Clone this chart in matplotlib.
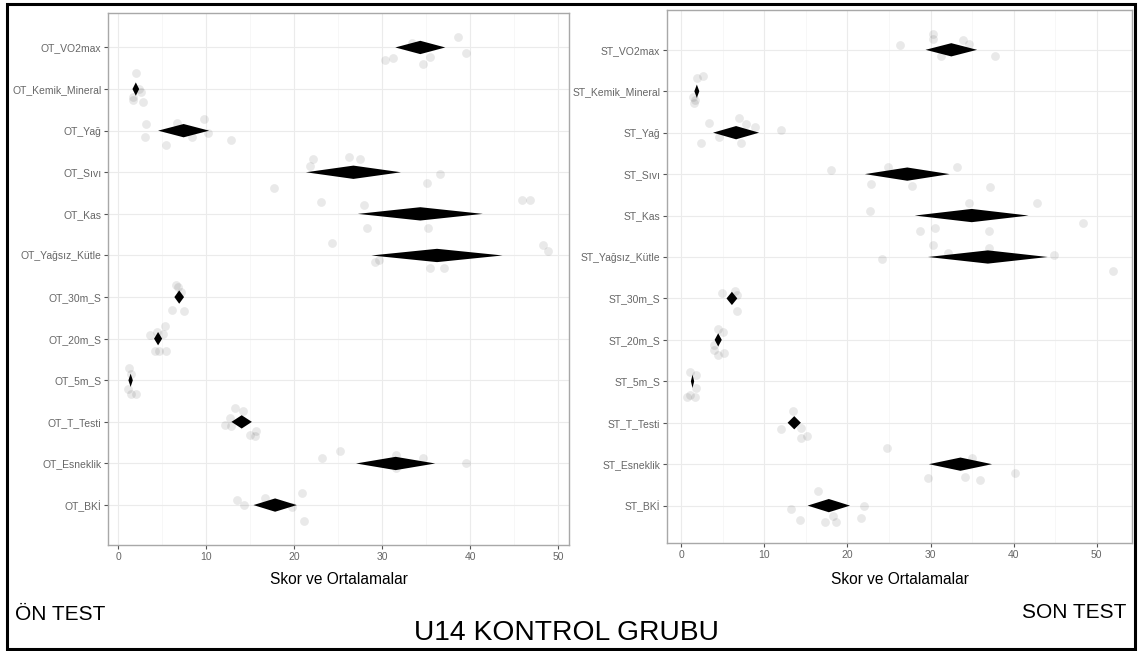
import matplotlib
matplotlib.use('Agg')
import matplotlib.pyplot as plt
from matplotlib.patches import Rectangle

plt.rcParams['font.family'] = ['Liberation Sans', 'DejaVu Sans']

olcumler = ['VO2max', 'Kemik_Mineral', 'Yağ', 'Sıvı', 'Kas', 'Yağsız_Kütle',
            '30m_S', '20m_S', '5m_S', 'T_Testi', 'Esneklik', 'BKİ']

# on test (OT) - ortalama ve guven araligi yarim genisligi
ot_ort = [34.3, 1.97, 7.4, 26.7, 34.3, 36.2, 6.9, 4.5, 1.38, 14.0, 31.5, 17.8]
ot_yari = [2.84, 0.38, 2.9, 5.4, 7.1, 7.45, 0.55, 0.46, 0.25, 1.16, 4.5, 2.46]
ot_skor = [
    [38.6, 39.5, 30.3, 31.2, 35.4, 34.6, 33.4],
    [1.97, 2.52, 1.6, 2.8, 1.7, 2.3],
    [3.15, 3.03, 5.4, 6.6, 9.75, 8.4, 10.2, 12.8],
    [22.1, 21.8, 26.2, 27.5, 36.5, 35.1, 17.7],
    [23.0, 27.9, 45.9, 46.8, 28.2, 35.2],
    [24.3, 29.2, 29.6, 35.4, 37.0, 48.3, 48.8],
    [6.55, 6.8, 7.1, 6.05, 7.5],
    [3.57, 4.35, 5.25, 5.05, 4.2, 4.6, 5.45],
    [1.17, 1.45, 1.05, 1.45, 1.95],
    [13.25, 14.1, 12.7, 12.1, 12.8, 14.9, 15.6, 15.5],
    [23.15, 25.2, 31.5, 34.6, 39.5, 31.5],
    [13.5, 14.3, 16.7, 20.9, 21.1, 19.7],
]
ot_jitter = [
    [-0.26, 0.13, 0.29, 0.26, 0.24, 0.40, -0.11],
    [-0.38, 0.06, 0.26, 0.32, 0.18, 0.0],
    [-0.16, 0.16, 0.34, -0.19, -0.28, 0.16, 0.06, 0.22],
    [-0.32, -0.14, -0.36, -0.32, 0.05, 0.26, 0.37],
    [-0.29, -0.22, -0.34, -0.34, 0.34, 0.34],
    [-0.29, 0.16, 0.10, 0.29, 0.29, -0.26, -0.10],
    [-0.30, -0.24, -0.12, 0.30, 0.34],
    [-0.08, -0.16, -0.30, -0.12, 0.30, 0.30, 0.30],
    [-0.30, -0.16, 0.22, 0.32, 0.34],
    [-0.34, -0.27, -0.10, 0.07, 0.11, 0.31, 0.23, 0.35],
    [-0.12, -0.29, -0.21, -0.14, 0.0, 0.1],
    [-0.13, 0.0, -0.16, -0.29, 0.38, 0.04],
]

# son test (ST)
st_ort = [32.5, 1.88, 6.6, 27.2, 34.95, 36.9, 6.1, 4.45, 1.36, 13.6, 33.6, 17.76]
st_yari = [3.1, 0.3, 2.77, 5.1, 6.85, 7.2, 0.65, 0.43, 0.2, 0.8, 3.8, 2.55]
st_skor = [
    [26.3, 30.3, 30.3, 33.95, 34.6, 37.75, 31.2],
    [1.88, 2.67, 1.36, 1.57, 1.6],
    [3.3, 7.0, 7.85, 8.86, 12.05, 2.4, 4.5, 7.25],
    [18.0, 24.9, 33.2, 22.8, 27.8, 37.1],
    [22.7, 34.6, 42.85, 48.4, 28.75, 30.5, 37.0],
    [30.3, 24.2, 37.0, 44.9, 51.9, 32.1],
    [4.93, 6.46, 6.77, 6.68],
    [4.37, 5.0, 3.9, 4.37, 5.1, 4.0],
    [1.0, 1.83, 1.83, 0.7, 1.7, 1.1],
    [13.5, 11.97, 14.36, 14.4, 15.1],
    [24.8, 35.0, 29.7, 34.2, 35.9, 40.2],
    [16.4, 13.2, 21.95, 14.27, 17.25, 18.6, 18.25, 21.65],
]
st_jitter = [
    [-0.11, -0.39, -0.25, -0.23, -0.15, 0.14, 0.15],
    [-0.33, -0.37, 0.14, 0.28, 0.22],
    [-0.24, -0.35, -0.22, -0.13, -0.06, 0.26, 0.10, 0.26],
    [-0.09, -0.16, -0.18, 0.24, 0.29, 0.31],
    [-0.11, -0.31, -0.31, 0.19, 0.37, 0.31, 0.38],
    [-0.28, 0.05, -0.21, -0.05, 0.35, -0.09],
    [-0.14, -0.19, -0.09, 0.31],
    [-0.27, -0.18, 0.12, 0.36, 0.32, 0.24],
    [-0.23, -0.16, 0.17, 0.39, 0.39, 0.33],
    [-0.28, 0.15, 0.13, 0.36, 0.31],
    [-0.39, -0.16, 0.34, 0.30, 0.37, 0.21],
    [-0.36, 0.07, 0.0, 0.34, 0.40, 0.40, 0.26, 0.31],
]

x_ticks = [0, 10, 20, 30, 40, 50]
DH = 0.16  # elmasin yarim yuksekligi


def ciz_panel(ax, onek, ort, yari, skor, jitter, xlim, ylim):
    for i in range(len(olcumler)):
        ax.scatter(skor[i], [i + j for j in jitter[i]], s=40, color='black',
                   alpha=0.085, linewidths=0, zorder=2)
        m, h = ort[i], yari[i]
        ax.fill([m - h, m, m + h, m], [i, i - DH, i, i + DH],
                color='black', lw=0, zorder=3)
    ax.set_yticks(range(len(olcumler)))
    ax.set_yticklabels([onek + o for o in olcumler])
    ax.set_xticks(x_ticks)
    ax.set_xticks([5, 15, 25, 35, 45], minor=True)
    ax.set_xlim(xlim)
    ax.set_ylim(ylim)
    ax.grid(which='major', color='#EBEBEB', lw=0.8)
    ax.grid(which='minor', axis='x', color='#F6F6F6', lw=0.6)
    ax.set_axisbelow(True)
    for sp in ax.spines.values():
        sp.set_color('#A8A8A8')
        sp.set_linewidth(1.0)
    ax.tick_params(which='major', length=3, width=0.8, color='#555555',
                   labelcolor='#666666', labelsize=7.5, pad=2)
    ax.tick_params(which='minor', length=0)


fig = plt.figure(figsize=(11.38, 6.51), dpi=100)

ax1 = fig.add_axes([0.0953, 0.1628, 0.4047, 0.8167])
ciz_panel(ax1, 'OT_', ot_ort, ot_yari, ot_skor, ot_jitter, (-1.14, 51.2), (11.96, -0.82))

ax2 = fig.add_axes([0.5862, 0.1654, 0.4088, 0.8192])
ciz_panel(ax2, 'ST_', st_ort, st_yari, st_skor, st_jitter, (-1.70, 54.28), (11.91, -0.96))

fig.text(0.2976, 0.1029, 'Skor ve Ortalamalar', ha='center', va='baseline', fontsize=11.2)
fig.text(0.7910, 0.1029, 'Skor ve Ortalamalar', ha='center', va='baseline', fontsize=11.2)
fig.text(0.0132, 0.0476, 'ÖN TEST', ha='left', va='baseline', fontsize=15)
fig.text(0.9895, 0.0507, 'SON TEST', ha='right', va='baseline', fontsize=15)
fig.text(0.498, 0.0169, 'U14 KONTROL GRUBU', ha='center', va='baseline', fontsize=20.3)

fig.patches.append(Rectangle((0.0061, 0.0031), 0.9917, 0.9900, transform=fig.transFigure,
                             fill=False, edgecolor='black', lw=2.2))

fig.savefig('out.png', dpi=100, facecolor='white')
